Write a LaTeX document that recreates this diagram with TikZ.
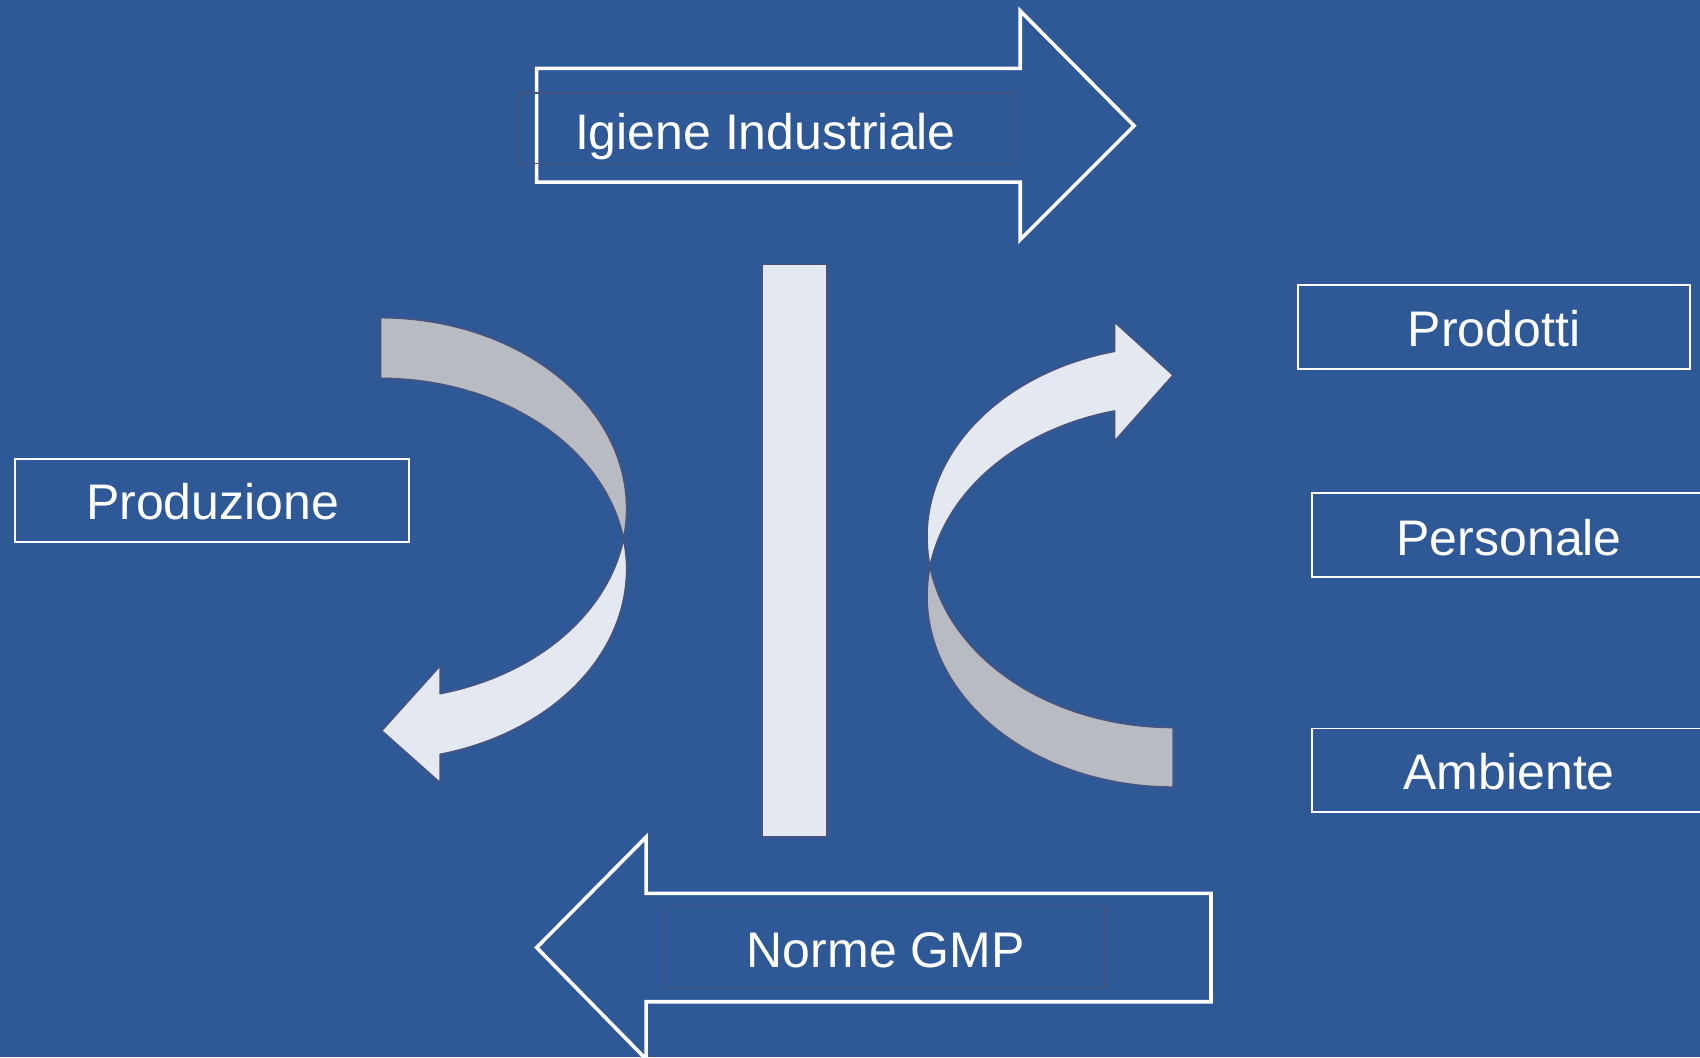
\documentclass[tikz,border=0pt]{standalone}
\usepackage{fontspec}
\setmainfont{Liberation Sans}
\definecolor{bg}{RGB}{47,89,150}
\definecolor{darkline}{RGB}{72,84,128}
\definecolor{lightfill}{RGB}{228,232,240}
\definecolor{greyfill}{RGB}{184,187,193}
\tikzset{
  lbl/.style={text=white, font=\fontsize{50}{60}\selectfont, text height=35.8pt, text depth=0pt, inner sep=0pt},
  wbox/.style={draw=white, line width=1.8pt, minimum height=83.5pt, inner sep=0pt},
  faint/.style={draw=darkline, line width=1.5pt, inner sep=0pt},
  bigarrow/.style={draw=white, line width=3.6pt, line join=miter},
  curvepart/.style={draw=darkline, line width=1.6pt, line join=round}
}
\begin{document}
\begin{tikzpicture}[x=1.0842pt, y=-1.0842pt]
\fill[bg] (0,0) rectangle (1568,975);
\useasboundingbox (0,0) rectangle (1568,975);

% top arrow
\draw[bigarrow] (495,63) -- (941,63) -- (941,10) -- (1046,116) -- (941,221) -- (941,168) -- (495,168) -- cycle;
\node[faint, minimum width=495.5pt, minimum height=70.5pt] (igbox) at (706.5,118.5) {};
\node[lbl] (ig) at (706,121) {Igiene Industriale};

% bottom arrow
\draw[bigarrow] (1117,824) -- (596,824) -- (596,772) -- (495,874) -- (596,977) -- (596,924) -- (1117,924) -- cycle;
\node[faint, minimum width=439.1pt, minimum height=81.3pt] (gmpbox) at (816.5,873.5) {};
\node[lbl] (gmp) at (817,876) {Norme GMP};

% central bar
\draw[curvepart, fill=lightfill] (703,244) rectangle (763,772);

% left curved arrow: grey back part
\draw[curvepart, fill=greyfill]
  plot[domain=-90:9.15, samples=80] ({351+227*cos(\x)}, {469+176*sin(\x)})
  -- plot[domain=-9.15:-90, samples=80] ({351+227*cos(\x)}, {525+176*sin(\x)})
  -- cycle;
% left curved arrow: white front part
\draw[curvepart, fill=lightfill]
  plot[domain=-9.15:75.98, samples=80] ({351+227*cos(\x)}, {525+176*sin(\x)})
  -- (406,722) -- (352,674) -- (406,614)
  -- plot[domain=75.98:9.15, samples=80] ({351+227*cos(\x)}, {469+176*sin(\x)})
  -- cycle;

% right curved arrow: grey back part
\draw[curvepart, fill=greyfill]
  plot[domain=90:188.99, samples=80] ({1082+227*cos(\x)}, {550+176*sin(\x)})
  -- plot[domain=171.01:90, samples=80] ({1082+227*cos(\x)}, {495+176*sin(\x)})
  -- cycle;
% right curved arrow: white front part
\draw[curvepart, fill=lightfill]
  plot[domain=171.01:256.24, samples=80] ({1082+227*cos(\x)}, {495+176*sin(\x)})
  -- (1028,297) -- (1082,346) -- (1028,407)
  -- plot[domain=256.24:188.99, samples=80] ({1082+227*cos(\x)}, {550+176*sin(\x)})
  -- cycle;

% side boxes
\node[wbox, minimum width=393.6pt] (prodbox) at (195.5,461.5) {};
\node[lbl] (prod) at (196,463) {Produzione};
\node[wbox, minimum width=392.5pt] (prodottibox) at (1378,301.5) {};
\node[lbl] (prodotti) at (1378,303) {Prodotti};
\node[wbox, minimum width=395.7pt] (persbox) at (1392.5,493.5) {};
\node[lbl] (pers) at (1392,496) {Personale};
\node[wbox, minimum width=395.7pt] (ambbox) at (1392.5,710.5) {};
\node[lbl] (amb) at (1392,712) {Ambiente};
\end{tikzpicture}
\end{document}
